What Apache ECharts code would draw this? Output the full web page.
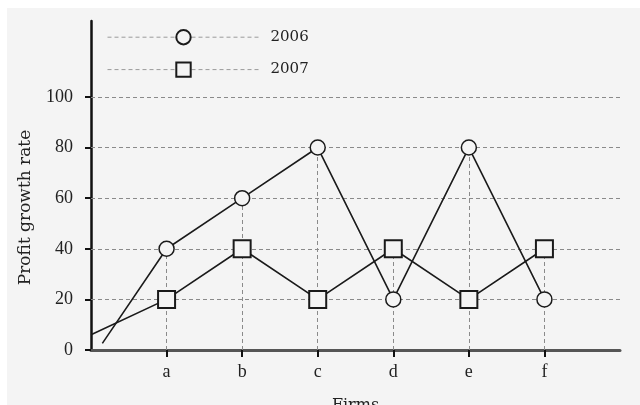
<!DOCTYPE html>
<html><head><meta charset="utf-8">
<script src="https://cdn.jsdelivr.net/npm/echarts@6/dist/echarts.min.js"></script>
<style>
html,body{margin:0;padding:0;background:#fff;width:640px;height:405px;overflow:hidden;}
#bg{position:absolute;left:7px;top:8px;right:0;bottom:0;background:#f4f4f4;}
#c{position:absolute;left:0;top:0;width:640px;height:405px;}
</style></head>
<body><div id="bg"></div><div id="c"></div>
<script>
const firms = ['a','b','c','d','e','f'];
const growth2006 = [40, 60, 80, 20, 80, 20];
const growth2007 = [20, 40, 20, 40, 20, 40];
const start2006 = [0.15, 2.6];
const start2007 = [0, 6];
const yTicks = [0, 20, 40, 60, 80, 100];
const xPos = firms.map((f, i) => i + 1);

const font = 'Liberation Serif';
const wide = 'DejaVu Serif';
const chart = echarts.init(document.getElementById('c'));
const mk = (start, vals) => [{value: start, symbol: 'none'}].concat(vals.map((v, i) => [xPos[i], v]));

chart.setOption({
  animation: false,
  textStyle: {fontFamily: font},
  grid: {left: 91, right: 20, top: 21, bottom: 55, outerBoundsMode: 'none', containLabel: false},
  legend: {
    orient: 'vertical', left: 102, top: 24, itemWidth: 152, itemHeight: 18, itemGap: 16,
    data: ['2006', '2007'],
    textStyle: {fontFamily: wide, fontSize: 15, color: '#222', padding: [0, 0, 0, 6]},
    lineStyle: {type: [4, 3], color: '#9a9a9a', width: 1}
  },
  xAxis: {
    type: 'value', min: 0, max: 7,
    name: 'Firms', nameLocation: 'middle', nameGap: 48,
    nameTextStyle: {fontFamily: wide, fontSize: 16, color: '#222'},
    axisLine: {onZero: false, lineStyle: {color: '#555', width: 3}},
    axisTick: {customValues: xPos, length: 7, lineStyle: {color: '#111', width: 2}},
    axisLabel: {customValues: xPos, formatter: v => firms[Math.round(v) - 1] || '', fontFamily: font, fontSize: 18, color: '#222', margin: 13},
    splitLine: {show: false}
  },
  yAxis: {
    type: 'value', min: 0, max: 130,
    name: 'Profit growth rate', nameLocation: 'middle', nameGap: 57,
    nameTextStyle: {fontFamily: wide, fontSize: 17, color: '#222', padding: [0, 44, 0, 0]},
    axisLine: {show: true, onZero: false, lineStyle: {color: '#111', width: 2.5}},
    axisTick: {show: true, customValues: yTicks, length: 6, lineStyle: {color: '#111', width: 2}},
    axisLabel: {customValues: yTicks, fontFamily: font, fontSize: 18, color: '#222', margin: 18},
    splitLine: {show: false}
  },
  series: [
    {
      name: '2006', type: 'line', data: mk(start2006, growth2006),
      symbol: 'circle', symbolSize: 15, z: 3,
      lineStyle: {color: '#1a1a1a', width: 1.6},
      itemStyle: {color: '#f4f4f4', borderColor: '#1a1a1a', borderWidth: 1.5},
      markLine: {
        silent: true, symbol: 'none', label: {show: false}, z: 1,
        lineStyle: {type: [4, 3], color: '#8a8a8a', width: 1},
        data: yTicks.filter(v => v > 0).map(v => ({yAxis: v}))
          .concat(xPos.map((x, i) => [{coord: [x, 0]}, {coord: [x, Math.max(growth2006[i], growth2007[i])]}]))
      }
    },
    {
      name: '2007', type: 'line', data: mk(start2007, growth2007),
      symbol: 'rect', symbolSize: 17, z: 3,
      lineStyle: {color: '#1a1a1a', width: 1.6},
      itemStyle: {color: '#f4f4f4', borderColor: '#1a1a1a', borderWidth: 2}
    }
  ]
});
</script></body></html>
